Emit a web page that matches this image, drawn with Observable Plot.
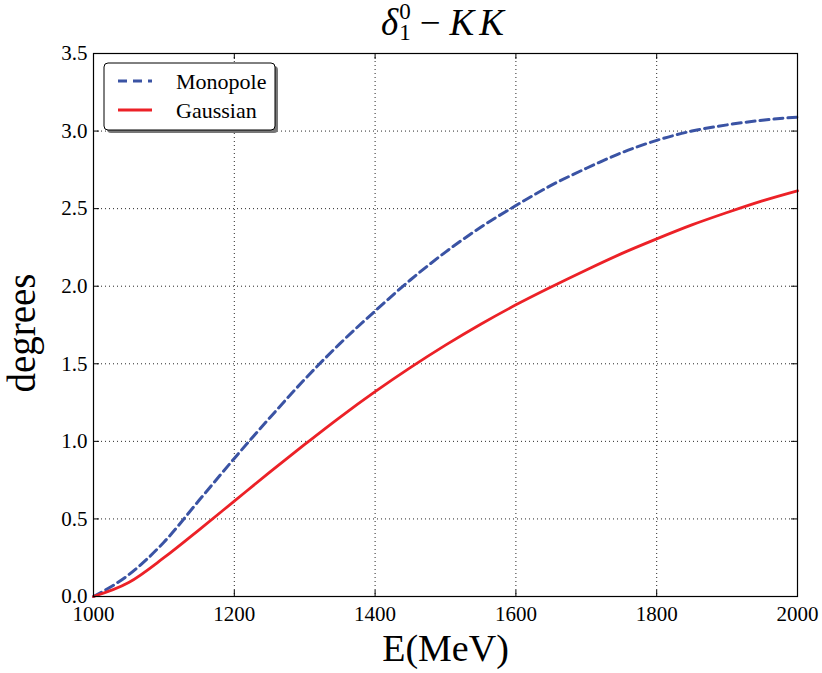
<!DOCTYPE html>
<html><head><meta charset="utf-8">
<script src="https://cdn.jsdelivr.net/npm/d3@7"></script>
<script src="https://cdn.jsdelivr.net/npm/@observablehq/plot@0.6"></script>
<style>
body{margin:0;background:#fff;}
#wrap{position:relative;width:822px;height:673px;}
#title{position:absolute;top:1px;left:0;width:890px;text-align:center;font-family:"Liberation Serif","DejaVu Serif",serif;font-size:37px;color:#000;white-space:nowrap;}
#title .ss{display:inline-block;vertical-align:-0.22em;font-size:23px;line-height:21px;text-align:left;font-style:normal;margin-left:1px;}
#title i{font-style:italic;}
#title .kk{letter-spacing:5px;}
#title .op{margin:0 9px;}
.lgtext{font-family:"Liberation Serif","DejaVu Serif",serif !important;font-size:22px;}
</style></head><body>
<div id="wrap"><div id="title"><i>δ</i><span class="ss">0<br>1</span><span class="op">−</span><i class="kk">KK</i></div></div>
<script>
const energy   = [1000,1050,1100,1150,1200,1250,1300,1350,1400,1450,1500,1550,1600,1650,1700,1750,1800,1850,1900,1950,2000];
const monopole = [0.00,0.14,0.35,0.62,0.89,1.15,1.40,1.63,1.84,2.04,2.22,2.38,2.52,2.65,2.76,2.86,2.94,3.00,3.04,3.07,3.09];
const gaussian = [0.00,0.09,0.25,0.43,0.615,0.80,0.98,1.155,1.32,1.475,1.62,1.755,1.88,1.995,2.105,2.21,2.305,2.395,2.475,2.55,2.615];
const seriesNames = ["Monopole","Gaussian"];
const seriesColors = ["#3a53a4","#ec2127"];
const xTicks = [1000,1200,1400,1600,1800,2000];
const yTicks = [0,0.5,1.0,1.5,2.0,2.5,3.0,3.5];

const W = 822, H = 673, mL = 93, mR = 25, mT = 53, mB = 77;
const fw = W - mL - mR, fh = H - mT - mB;
const font = '"Liberation Serif","DejaVu Serif",serif';

const mono = energy.map((e,i)=>({E:e, v:monopole[i]}));
const gaus = energy.map((e,i)=>({E:e, v:gaussian[i]}));

const chart = Plot.plot({
  width: W, height: H,
  marginLeft: mL, marginRight: mR, marginTop: mT, marginBottom: mB,
  style: {fontFamily: font, background: "#fff", color: "#000"},
  x: {domain: [1000,2000]},
  y: {domain: [0,3.5]},
  marks: [
    Plot.gridX(xTicks.slice(1,-1), {stroke: "#000", strokeOpacity: 0.85, strokeDasharray: "1,3", strokeWidth: 1}),
    Plot.gridY(yTicks.slice(1,-1), {stroke: "#000", strokeOpacity: 0.85, strokeDasharray: "1,3", strokeWidth: 1}),
    Plot.line(mono, {x: "E", y: "v", stroke: seriesColors[0], strokeWidth: 3, strokeDasharray: "9,5", curve: "monotone-x"}),
    Plot.line(gaus, {x: "E", y: "v", stroke: seriesColors[1], strokeWidth: 2.8, curve: "monotone-x"}),
    // inward ticks on all four sides
    Plot.ruleX(xTicks, {stroke: "#000", strokeWidth: 1, insetTop: fh - 6}),
    Plot.ruleX(xTicks, {stroke: "#000", strokeWidth: 1, insetBottom: fh - 6}),
    Plot.ruleY(yTicks, {stroke: "#000", strokeWidth: 1, insetRight: fw - 6}),
    Plot.ruleY(yTicks, {stroke: "#000", strokeWidth: 1, insetLeft: fw - 6}),
    Plot.frame({stroke: "#000", strokeWidth: 1.2}),
    Plot.axisX(xTicks, {tickSize: 0, tickPadding: 10, fontSize: 21, tickFormat: d3.format("d"), label: null}),
    Plot.axisY(yTicks, {tickSize: 0, tickPadding: 6, fontSize: 21, tickFormat: d3.format(".1f"), label: null}),
    Plot.text(["E(MeV)"], {frameAnchor: "bottom", lineAnchor: "middle", textAnchor: "middle", dy: 52, fontSize: 38, fontFamily: font}),
    Plot.text(["degrees"], {frameAnchor: "left", lineAnchor: "middle", textAnchor: "middle", dx: -71, dy: 8, rotate: -90, fontSize: 39, fontFamily: font})
  ]
});

// legend
const svg = d3.select(chart);
const lg = svg.append("g").style("font-family", font).style("font-size", "22px").attr("text-anchor", "start");
lg.append("rect").attr("x", 107).attr("y", 66).attr("width", 171).attr("height", 67).attr("rx", 4).attr("fill", "#777");
lg.append("rect").attr("x", 104).attr("y", 63).attr("width", 171).attr("height", 67).attr("rx", 4).attr("fill", "#fff").attr("stroke", "#000").attr("stroke-width", 1);
const rows = [81, 110];
seriesNames.forEach((name, i) => {
  lg.append("line").attr("x1", 118).attr("x2", 152).attr("y1", rows[i]).attr("y2", rows[i])
    .attr("stroke", seriesColors[i]).attr("stroke-width", 3)
    .attr("stroke-dasharray", i === 0 ? "9,6" : null);
  lg.append("text").attr("class", "lgtext").attr("x", 176).attr("y", rows[i]).attr("dy", "0.35em")
    .attr("text-anchor", "start").style("font-family", font).text(name);
});

document.getElementById("wrap").appendChild(chart);
</script>
</body></html>
